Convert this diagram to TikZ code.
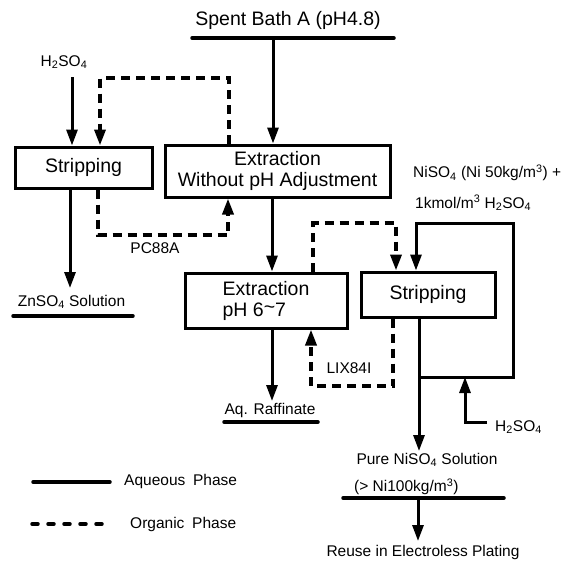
\documentclass[tikz,border=0pt]{standalone}
\usepackage{fontspec}
\setmainfont{Liberation Sans}
\usetikzlibrary{arrows.meta}
\tikzset{
  x=1pt,y=-1pt,
  box/.style={draw,line width=3pt,inner sep=0pt,font=\fontsize{19.5}{21}\selectfont,align=center},
  aq/.style={line width=3pt,line join=miter},
  org/.style={line width=3.5pt,dash pattern=on 9pt off 6pt},
  tip/.style={-{Triangle[length=16pt,width=11pt]}},
  lab/.style={inner sep=0pt,font=\fontsize{15.5}{17}\selectfont},
  big/.style={inner sep=0pt,font=\fontsize{19.5}{21}\selectfont}
}
\begin{document}
\begin{tikzpicture}
\useasboundingbox (0,0) rectangle (573,560);
% boxes
\node[box,minimum width=225pt,minimum height=52pt] (ext1) at (277.5,171) {Extraction\\Without pH Adjustment};
\node[box,minimum width=137pt,minimum height=41pt] (stripL) at (83.5,167.5) {Stripping};
\node[box,minimum width=162pt,minimum height=55pt,align=left] (extpH) at (266,300.5) {Extraction\\pH 6\raisebox{0.25ex}{\char"7E}7};
\node[box,minimum width=134pt,minimum height=45pt] (stripR) at (428,294.5) {Stripping};
% labels
\node[big] (spent) at (288,20) {Spent Bath A (pH4.8)};
\node[lab] (h2l) at (64,62) {H\textsubscript{2}SO\textsubscript{4}};
\node[lab] (pc) at (155,248) {PC88A};
\node[lab] (zn) at (71.5,302) {ZnSO\textsubscript{4} Solution};
\node[lab,anchor=west] (ni1) at (413,173) {NiSO\textsubscript{4} (Ni 50kg/m\textsuperscript{3}) +};
\node[lab,anchor=west] (ni2) at (415,203) {1kmol/m\textsuperscript{3} H\textsubscript{2}SO\textsubscript{4}};
\node[lab] (lix) at (349,368) {LIX84I};
\node[lab] (raf) at (270,410) {Aq. Raffinate};
\node[lab,anchor=west] (h2r) at (495,427) {H\textsubscript{2}SO\textsubscript{4}};
\node[lab] (pure) at (427,460) {Pure NiSO\textsubscript{4} Solution};
\node[lab,anchor=west] (conc) at (354,487) {(\textgreater{} Ni100kg/m\textsuperscript{3})};
\node[lab] (reuse) at (423,552) {Reuse in Electroless Plating};
\node[lab,anchor=west] (aqleg) at (124,481) {Aqueous\enspace Phase};
\node[lab,anchor=west] (orgleg) at (130,524) {Organic\enspace Phase};
% coordinates
\coordinate (sbL) at (192,38); \coordinate (sbR) at (394,38);
\coordinate (sbA) at (273,38);
\coordinate (h2lA) at (72,77);
\coordinate (o1a) at (229,78); \coordinate (o1b) at (100,78);
\coordinate (o2a) at (98,235); \coordinate (o2b) at (228,235);
\coordinate (znE) at (70,288);
\coordinate (znL) at (13,316); \coordinate (znR) at (133,316);
\coordinate (o3a) at (313,223); \coordinate (o3b) at (396,223);
\coordinate (l1) at (419,377); \coordinate (l2) at (513,377);
\coordinate (l3) at (513,223); \coordinate (l4) at (416,223);
\coordinate (o4a) at (393,386); \coordinate (o4b) at (311,386);
\coordinate (rafE) at (272,401);
\coordinate (rafL) at (224,422); \coordinate (rafR) at (318,422);
\coordinate (h2rA) at (487,422); \coordinate (h2rB) at (465,422);
\coordinate (h2rT) at (465,377);
\coordinate (pureE) at (419,451);
\coordinate (puL) at (343,498); \coordinate (puR) at (504,498);
\coordinate (puA) at (418,498); \coordinate (reE) at (418,541);
\coordinate (lg1) at (33,482); \coordinate (lg2) at (110,482);
\coordinate (lg3) at (32,524); \coordinate (lg4) at (110,524);
% underlines
\draw[aq,line width=3.5pt,line cap=round] (sbL) -- (sbR);
\draw[aq,line width=3.5pt,line cap=round] (znL) -- (znR);
\draw[aq,line width=3.5pt,line cap=round] (rafL) -- (rafR);
\draw[aq,line width=3.5pt,line cap=round] (puL) -- (puR);
% aqueous flows
\draw[aq,tip] (sbA) -- (sbA |- ext1.north);
\draw[aq,tip] (h2lA) -- (h2lA |- stripL.north);
\draw[aq,tip] (znE |- stripL.south) -- (znE);
\draw[aq,tip] (ext1.south -| 272,0) -- (extpH.north -| 272,0);
\draw[aq,tip] (rafE |- extpH.south) -- (rafE);
\draw[aq,tip] (l1 |- stripR.south) -- (l1) -- (l2) -- (l3) -- (l4) -- (l4 |- stripR.north);
\draw[aq,tip] (l1) -- (pureE);
\draw[aq,tip] (h2rA) -- (h2rB) -- (h2rT);
\draw[aq,tip] (puA) -- (reE);
% organic flows
\draw[org,tip] (o1a |- ext1.north) -- (o1a) -- (o1b) -- (o1b |- stripL.north);
\draw[org,tip] (o2a |- stripL.south) -- (o2a) -- (o2b) -- (o2b |- ext1.south);
\draw[org,tip] (o3a |- extpH.north) -- (o3a) -- (o3b) -- (o3b |- stripR.north);
\draw[org,tip] (o4a |- stripR.south) -- (o4a) -- (o4b) -- (o4b |- extpH.south);
% legend
\draw[aq,line width=3.5pt,line cap=round] (lg1) -- (lg2);
\draw[org,line cap=round,dash pattern=on 6pt off 10pt] (lg3) -- (lg4);
\end{tikzpicture}
\end{document}
